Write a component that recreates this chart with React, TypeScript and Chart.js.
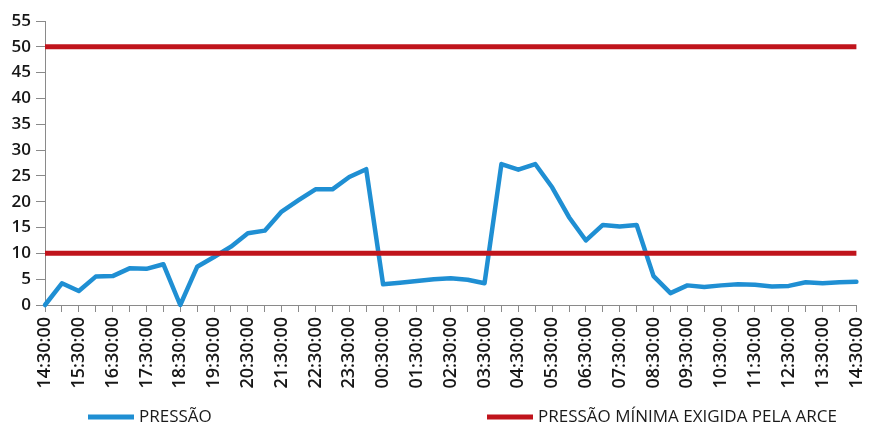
import React, { useEffect, useRef } from "react";
import { Chart, registerables } from "chart.js";

Chart.register(...registerables);

const timeLabels = [
  "14:30:00", "15:00:00", "15:30:00", "16:00:00", "16:30:00", "17:00:00", "17:30:00",
  "18:00:00", "18:30:00", "19:00:00", "19:30:00", "20:00:00", "20:30:00", "21:00:00",
  "21:30:00", "22:00:00", "22:30:00", "23:00:00", "23:30:00", "00:00:00", "00:30:00",
  "01:00:00", "01:30:00", "02:00:00", "02:30:00", "03:00:00", "03:30:00", "04:00:00",
  "04:30:00", "05:00:00", "05:30:00", "06:00:00", "06:30:00", "07:00:00", "07:30:00",
  "08:00:00", "08:30:00", "09:00:00", "09:30:00", "10:00:00", "10:30:00", "11:00:00",
  "11:30:00", "12:00:00", "12:30:00", "13:00:00", "13:30:00", "14:00:00", "14:30:00",
];

const pressao = [
  0, 4.2, 2.7, 5.5, 5.6, 7.1, 7.0, 7.9, 0, 7.4, 9.3, 11.3, 13.9, 14.4, 18.1, 20.3,
  22.4, 22.4, 24.8, 26.3, 4.0, 4.3, 4.65, 5.0, 5.2, 4.9, 4.2, 27.3, 26.2, 27.3, 22.8,
  17.0, 12.5, 15.5, 15.2, 15.5, 5.6, 2.3, 3.8, 3.5, 3.8, 4.0, 3.9, 3.6, 3.7, 4.4, 4.2,
  4.4, 4.5,
];

const limitSpan = ["início", "fim"];
const pressaoMinima = [10, 10];
const pressaoMaxima = [50, 50];

const yTicks = { min: 0, max: 55, step: 5 };

const seriesNames = {
  pressao: "PRESSÃO",
  minima: "PRESSÃO MÍNIMA EXIGIDA PELA ARCE",
  maxima: "PRESSÃO MÁXIMA",
};

const BLUE = "#1f8fd3";
const RED = "#c0141c";
const AXIS = "#8a8a8a";
const FONT = "'Open Sans', sans-serif";

const legendPlugin = {
  id: "bottomLegend",
  afterDraw(chart: any) {
    const ctx = chart.ctx;
    const ds = chart.data.datasets;
    const entries = [
      { d: ds[2], x: 88 },
      { d: ds[0], x: 487 },
    ];
    const y = 417;
    ctx.save();
    entries.forEach(({ d, x }) => {
      ctx.strokeStyle = d.borderColor;
      ctx.lineWidth = 5;
      ctx.lineCap = "butt";
      ctx.beginPath();
      ctx.moveTo(x, y);
      ctx.lineTo(x + 46, y);
      ctx.stroke();
      ctx.fillStyle = "#1a1a1a";
      ctx.font = `17px ${FONT}`;
      ctx.textBaseline = "middle";
      ctx.textAlign = "left";
      ctx.fillText(d.label, x + 51, y);
    });
    ctx.restore();
  },
};

export default function App() {
  const ref = useRef<HTMLCanvasElement>(null);

  useEffect(() => {
    document.body.style.margin = "0";
    const canvas = ref.current;
    if (!canvas) return;
    const chart = new Chart(canvas, {
      type: "line",
      data: {
        labels: timeLabels,
        datasets: [
          {
            label: seriesNames.minima,
            data: pressaoMinima,
            xAxisID: "x2",
            borderColor: RED,
            borderWidth: 5,
            pointRadius: 0,
            tension: 0,
            order: 0,
          },
          {
            label: seriesNames.maxima,
            data: pressaoMaxima,
            xAxisID: "x2",
            borderColor: RED,
            borderWidth: 5,
            pointRadius: 0,
            tension: 0,
            order: 0,
          },
          {
            label: seriesNames.pressao,
            data: pressao,
            xAxisID: "x",
            borderColor: BLUE,
            borderWidth: 4.5,
            pointRadius: 0,
            tension: 0,
            borderJoinStyle: "round",
            borderCapStyle: "round",
            clip: false,
            order: 1,
          },
        ],
      },
      options: {
        animation: false,
        responsive: false,
        events: [],
        layout: { padding: { left: 0, top: 21, right: 23, bottom: 0 } },
        plugins: {
          legend: { display: false },
          tooltip: { enabled: false },
        },
        scales: {
          x: {
            type: "category",
            offset: false,
            afterFit: (s: any) => {
              s.height = 121;
            },
            grid: {
              drawOnChartArea: false,
              drawTicks: true,
              tickLength: 7,
              color: AXIS,
              lineWidth: 1,
            },
            border: { color: AXIS, width: 1 },
            ticks: {
              autoSkip: false,
              maxRotation: 90,
              minRotation: 90,
              padding: 5,
              color: "#161616",
              font: { family: FONT, size: 18, weight: "600" },
              callback: function (this: any, value: any, index: number) {
                return index % 2 === 0 ? this.getLabelForValue(value) : "";
              },
            },
          },
          x2: {
            type: "category",
            labels: limitSpan,
            offset: false,
            display: false,
          },
          y: {
            min: yTicks.min,
            max: yTicks.max,
            afterFit: (s: any) => {
              s.width = 45;
            },
            grid: {
              drawOnChartArea: false,
              drawTicks: true,
              tickLength: 9,
              color: AXIS,
              lineWidth: 1,
            },
            border: { color: AXIS, width: 1 },
            ticks: {
              stepSize: yTicks.step,
              padding: 5,
              color: "#161616",
              font: { family: FONT, size: 17, weight: "600" },
            },
          },
        },
      },
      plugins: [legendPlugin],
    });
    return () => chart.destroy();
  }, []);

  return (
    <div style={{ position: "fixed", left: 0, top: 0, width: 883, height: 426, background: "#fff" }}>
      <canvas ref={ref} width={883} height={426} />
    </div>
  );
}
